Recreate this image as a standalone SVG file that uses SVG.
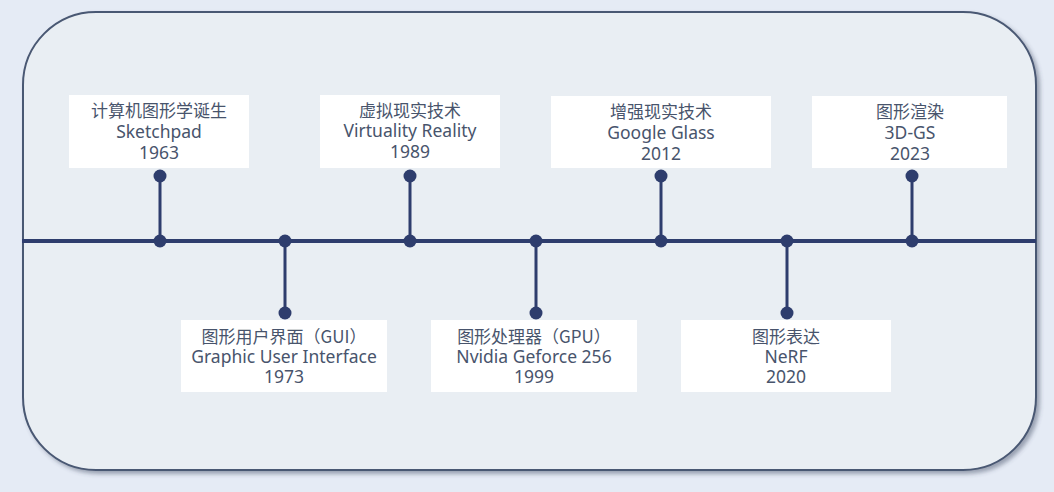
<svg xmlns="http://www.w3.org/2000/svg" width="1054" height="492" viewBox="0 0 1054 492">
<defs>
<filter id="sh" x="-5%" y="-5%" width="110%" height="115%">
<feDropShadow dx="3" dy="3" stdDeviation="2" flood-color="#3a475e" flood-opacity="0.45"/>
</filter>
<style>
.box{fill:#ffffff}
.t{font-family:"Noto Sans CJK SC","Noto Sans",sans-serif;font-size:17px;fill:#48546c;text-anchor:middle}
.l{font-family:"Noto Sans","Noto Sans CJK SC",sans-serif;font-size:17.5px}
.ln{stroke:#2e3d6d;fill:none}
.dot{fill:#2e3d6d}
</style>
</defs>
<rect width="1054" height="492" fill="#e5ebf5"/>
<rect x="23" y="12" width="1013" height="458" rx="73" ry="73" fill="#e9eef3" stroke="#4a5873" stroke-width="2" filter="url(#sh)"/>
<g id="connectors">
<line class="ln" x1="22" y1="241" x2="1036" y2="241" stroke-width="4"/>
<line class="ln" x1="160" y1="176" x2="160" y2="241" stroke-width="3"/>
<line class="ln" x1="285" y1="241" x2="285" y2="313" stroke-width="3"/>
<line class="ln" x1="410" y1="176" x2="410" y2="241" stroke-width="3"/>
<line class="ln" x1="536" y1="241" x2="536" y2="313" stroke-width="3"/>
<line class="ln" x1="661" y1="176" x2="661" y2="241" stroke-width="3"/>
<line class="ln" x1="787" y1="241" x2="787" y2="313" stroke-width="3"/>
<line class="ln" x1="912" y1="176" x2="912" y2="241" stroke-width="3"/>
<circle class="dot" cx="160" cy="241" r="6.5"/>
<circle class="dot" cx="285" cy="241" r="6.5"/>
<circle class="dot" cx="410" cy="241" r="6.5"/>
<circle class="dot" cx="536" cy="241" r="6.5"/>
<circle class="dot" cx="661" cy="241" r="6.5"/>
<circle class="dot" cx="787" cy="241" r="6.5"/>
<circle class="dot" cx="912" cy="241" r="6.5"/>
<circle class="dot" cx="160" cy="176" r="6.5"/>
<circle class="dot" cx="285" cy="313" r="6.5"/>
<circle class="dot" cx="410" cy="176" r="6.5"/>
<circle class="dot" cx="536" cy="313" r="6.5"/>
<circle class="dot" cx="661" cy="176" r="6.5"/>
<circle class="dot" cx="787" cy="313" r="6.5"/>
<circle class="dot" cx="912" cy="176" r="6.5"/>
</g>
<g id="n1963">
<rect class="box" x="69" y="95" width="180" height="73"/>
<text class="t" x="159" y="117">计算机图形学诞生</text>
<text class="t l" x="159" y="138">Sketchpad</text>
<text class="t l" x="159" y="159">1963</text>
</g>
<g id="n1973">
<rect class="box" x="181" y="320" width="206" height="72"/>
<text class="t" x="284" y="343">图形用户界面（GUI）</text>
<text class="t l" x="284" y="363">Graphic User Interface</text>
<text class="t l" x="284" y="383">1973</text>
</g>
<g id="n1989">
<rect class="box" x="320" y="95" width="180" height="73"/>
<text class="t" x="410" y="117">虚拟现实技术</text>
<text class="t l" x="410" y="137">Virtuality Reality</text>
<text class="t l" x="410" y="158">1989</text>
</g>
<g id="n1999">
<rect class="box" x="431" y="320" width="206" height="72"/>
<text class="t" x="534" y="343">图形处理器（GPU）</text>
<text class="t l" x="534" y="363">Nvidia Geforce 256</text>
<text class="t l" x="534" y="383">1999</text>
</g>
<g id="n2012">
<rect class="box" x="551" y="96" width="220" height="72"/>
<text class="t" x="661" y="118">增强现实技术</text>
<text class="t l" x="661" y="139">Google Glass</text>
<text class="t l" x="661" y="160">2012</text>
</g>
<g id="n2020">
<rect class="box" x="681" y="320" width="210" height="72"/>
<text class="t" x="786" y="343">图形表达</text>
<text class="t l" x="786" y="363">NeRF</text>
<text class="t l" x="786" y="383">2020</text>
</g>
<g id="n2023">
<rect class="box" x="812" y="96" width="195" height="72"/>
<text class="t" x="910" y="118">图形渲染</text>
<text class="t l" x="910" y="139">3D-GS</text>
<text class="t l" x="910" y="160">2023</text>
</g>
</svg>
